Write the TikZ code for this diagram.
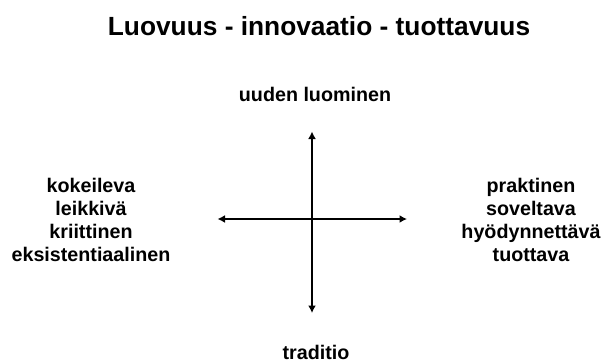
\documentclass[tikz,border=0pt]{standalone}
\usepackage{fontspec}
\setmainfont{Liberation Sans}
\usetikzlibrary{arrows.meta}
\tikzset{
  titletext/.style={font=\fontsize{26.3}{30}\selectfont\bfseries, inner sep=0pt, anchor=base},
  labeltext/.style={font=\fontsize{19.7}{23}\selectfont\bfseries, inner sep=0pt, anchor=base},
  axis/.style={line width=2pt, {Latex[length=7.5pt,width=8pt]}-{Latex[length=7.5pt,width=8pt]}}
}
\begin{document}
\begin{tikzpicture}[x=1pt,y=-1pt]
\useasboundingbox (0,0) rectangle (604,362);
\node[titletext] (title) at (319,35) {Luovuus - innovaatio - tuottavuus};
\node[labeltext] (top) at (315,101) {uuden luominen};
\node[labeltext] (bottom) at (316,359) {traditio};
\foreach \t [count=\i] in {kokeileva,leikkivä,kriittinen,eksistentiaalinen}
  \node[labeltext] (left\i) at (91,{192+23*(\i-1)}) {\t};
\foreach \t [count=\i] in {praktinen,soveltava,hyödynnettävä,tuottava}
  \node[labeltext] (right\i) at (531,{192+23*(\i-1)}) {\t};
\coordinate (vt) at (312,131.5);
\coordinate (vb) at (312,313);
\coordinate (hl) at (217.5,219);
\coordinate (hr) at (407,219);
\draw[axis] (vt) -- (vb);
\draw[axis] (hl) -- (hr);
\end{tikzpicture}
\end{document}
